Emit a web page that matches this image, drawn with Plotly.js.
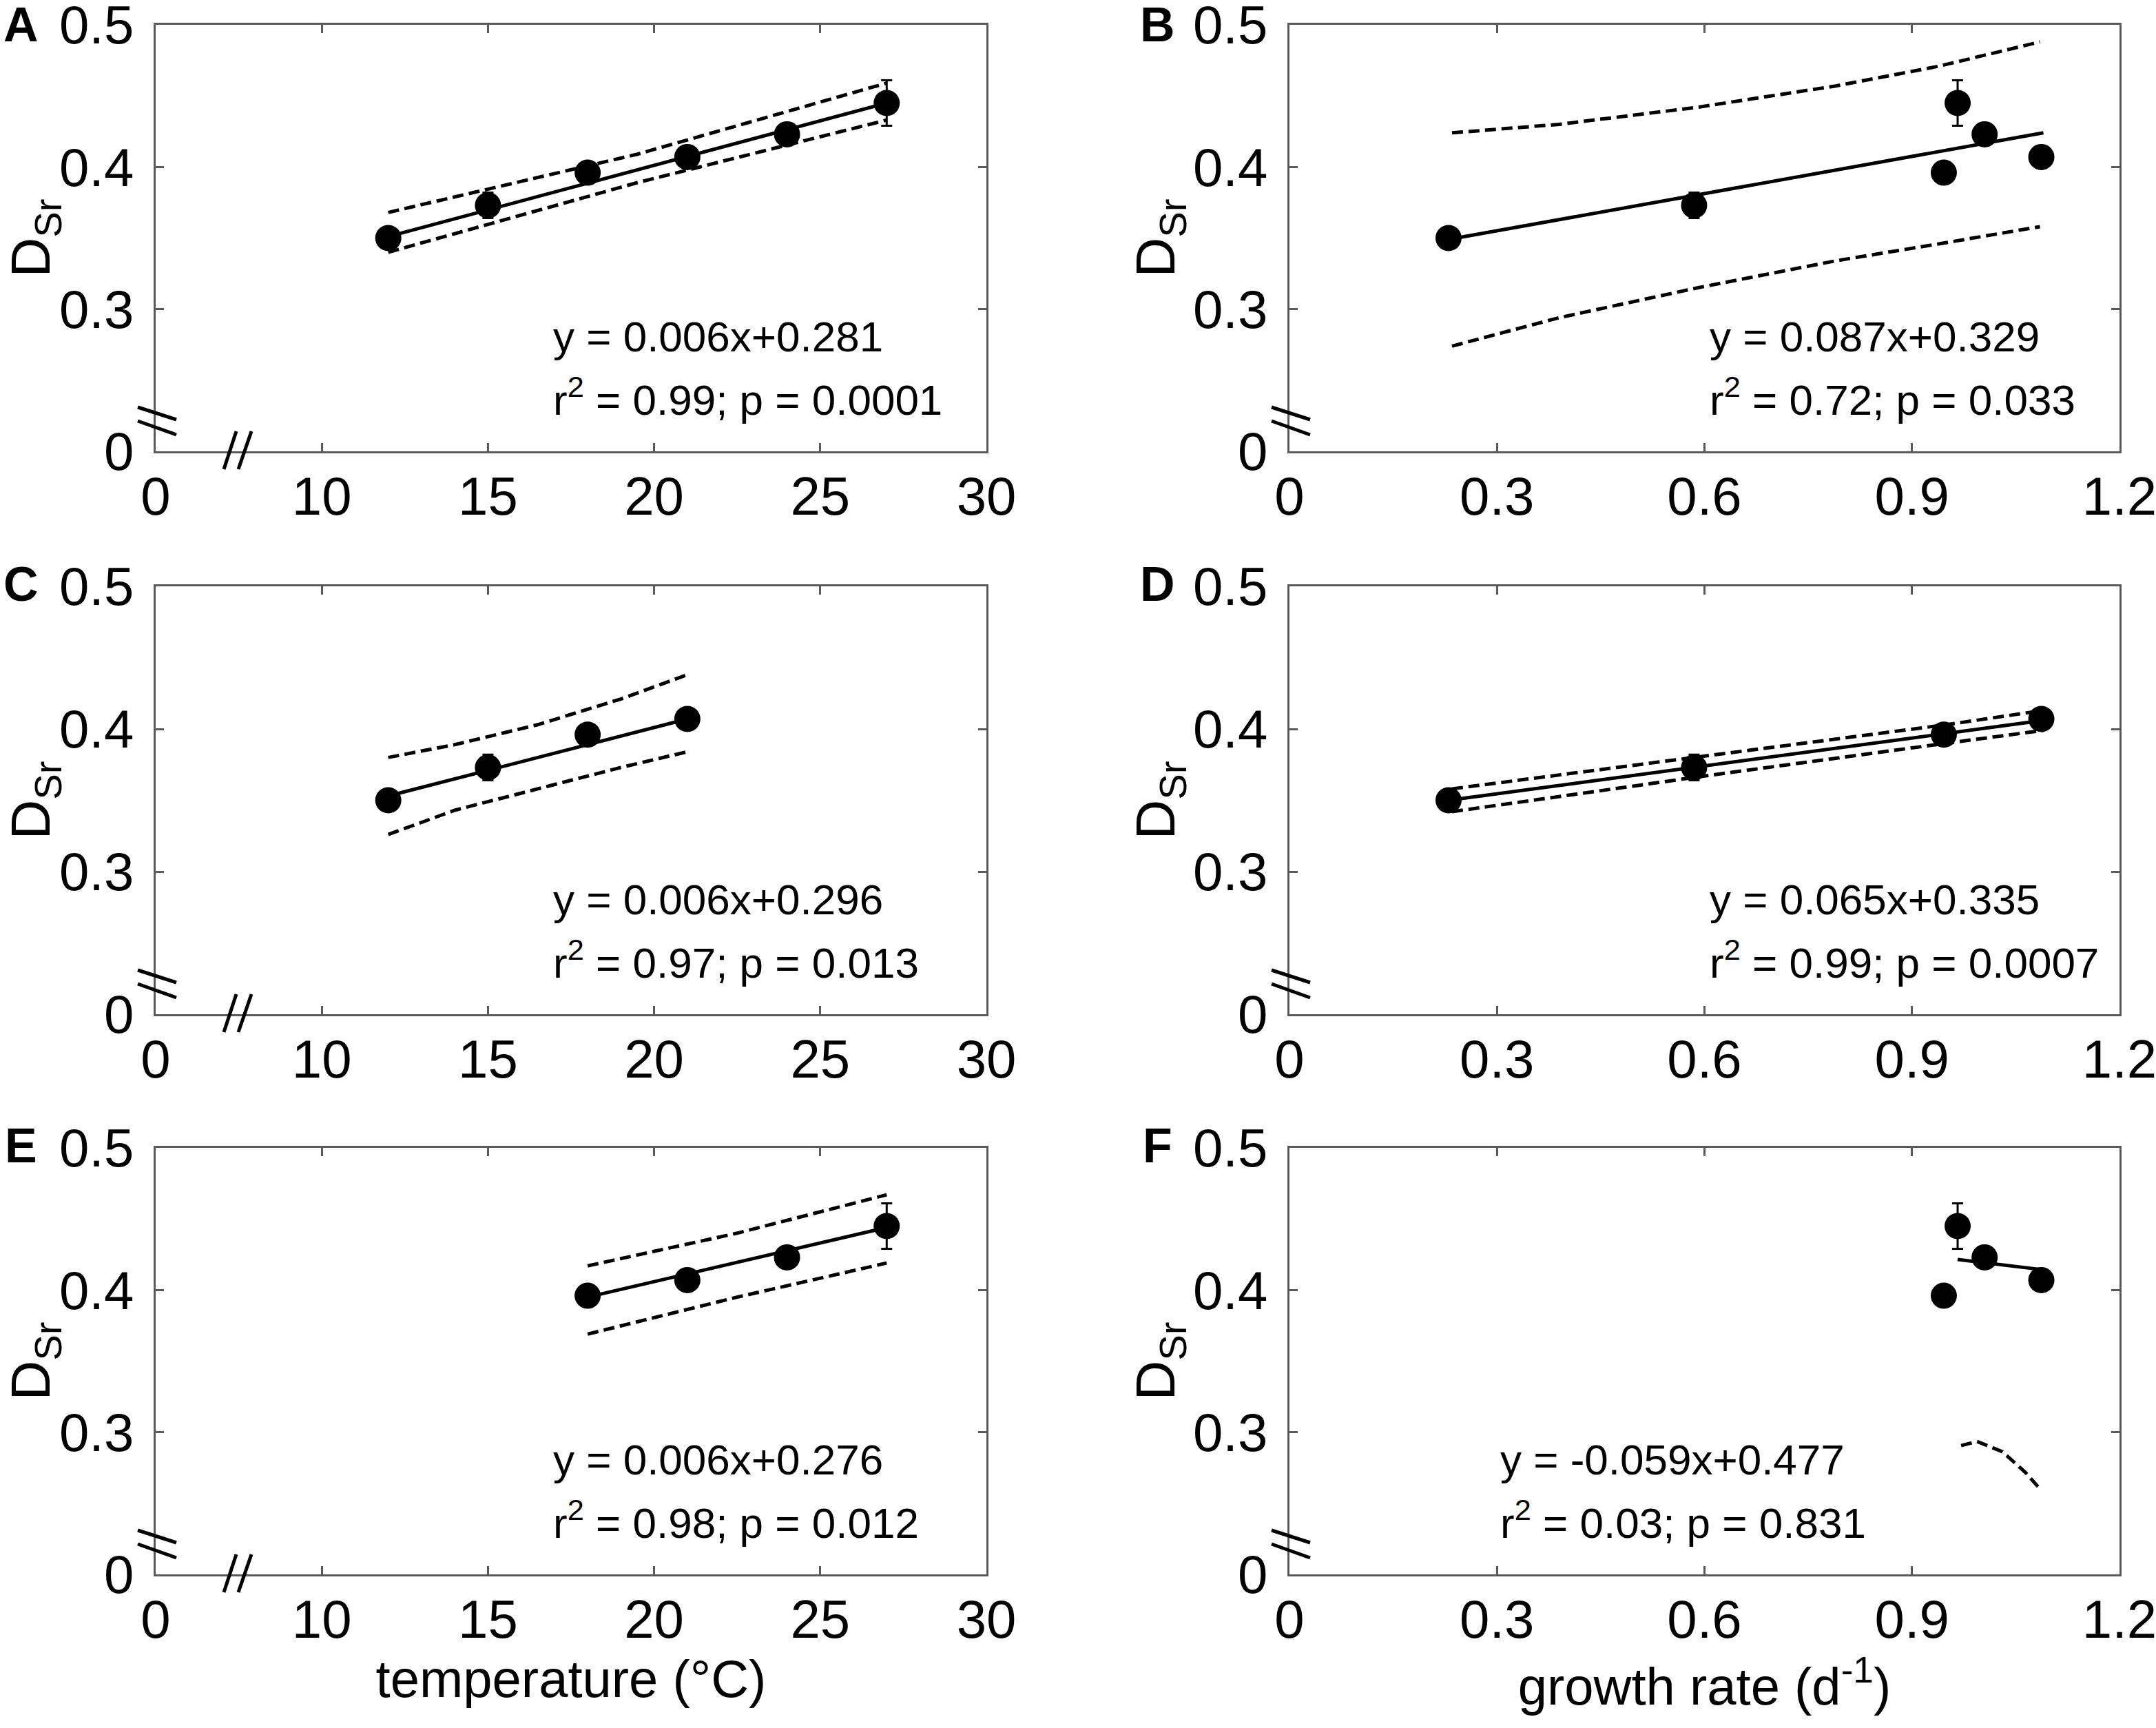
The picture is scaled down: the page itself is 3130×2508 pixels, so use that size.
<!DOCTYPE html>
<html>
<head>
<meta charset="utf-8">
<script src="https://cdn.plot.ly/plotly-3.0.1.min.js"></script>
<style>
  html, body { margin: 0; padding: 0; background: #fff; }
  #chart { width: 3130px; height: 2508px; }
</style>
</head>
<body>
<div id="chart"></div>
<script>
// measured values, shared by all panels
const temperature = [12, 15, 18, 21, 24, 27];
const growthRate = [0.23, 0.585, 0.946, 1.087, 1.005, 0.966];
const dSr = [0.350, 0.373, 0.396, 0.407, 0.423, 0.445];
const dSrErr = [0.004, 0.009, 0.004, 0.004, 0.004, 0.016];

// which points each panel uses
const pointsA = [0, 1, 2, 3, 4, 5];
const pointsC = [0, 1, 2, 3];
const pointsE = [2, 3, 4, 5];

// regression lines
const fitAx = [12, 27], fitAy = [0.351, 0.445];
const fitBx = [0.23, 1.09], fitBy = [0.349, 0.424];
const fitCx = [12, 21], fitCy = [0.353, 0.407];
const fitDx = [0.23, 1.09], fitDy = [0.350, 0.406];
const fitEx = [18, 27], fitEy = [0.395, 0.444];
const fitFx = [0.966, 1.087], fitFy = [0.4215, 0.4144];

// 95% confidence bands (dashed)
const bandAx = [12, 19.5, 27];
const bandAup = [0.368, 0.409, 0.459];
const bandAlo = [0.340, 0.389, 0.433];
const bandBx = [0.235, 0.39, 0.59, 0.79, 0.94, 1.085];
const bandBup = [0.424, 0.430, 0.442, 0.457, 0.471, 0.488];
const bandBlo = [0.274, 0.294, 0.315, 0.334, 0.346, 0.358];
const bandCx = [12, 14, 16.5, 19, 21];
const bandCup = [0.380, 0.389, 0.403, 0.421, 0.438];
const bandClo = [0.326, 0.343, 0.358, 0.373, 0.384];
const bandDx = [0.235, 0.6, 0.95, 1.09];
const bandDup = [0.358, 0.381, 0.403, 0.413];
const bandDlo = [0.342, 0.367, 0.390, 0.399];
const bandEx = [18, 22.5, 27];
const bandEup = [0.417, 0.440, 0.467];
const bandElo = [0.369, 0.395, 0.419];
const bandFx = [0.971, 0.994, 1.031, 1.064, 1.087];
const bandFlo = [0.2906, 0.2935, 0.2862, 0.2717, 0.2591];

// axis ticks (broken axes: lowest tick is labelled 0)
const tempTicks = [5, 10, 15, 20, 25, 30];
const tempLabels = ['0', '10', '15', '20', '25', '30'];
const rateTicks = [0, 0.3, 0.6, 0.9, 1.2];
const rateLabels = ['0', '0.3', '0.6', '0.9', '1.2'];
const dTicks = [0.2, 0.3, 0.4, 0.5];
const dLabels = ['0', '0.3', '0.4', '0.5'];

const equations = [
    ['y = 0.006x+0.281', 'r<sup>2</sup> = 0.99; p = 0.0001'],
    ['y = 0.087x+0.329', 'r<sup>2</sup> = 0.72; p = 0.033'],
    ['y = 0.006x+0.296', 'r<sup>2</sup> = 0.97; p = 0.013'],
    ['y = 0.065x+0.335', 'r<sup>2</sup> = 0.99; p = 0.0007'],
    ['y = 0.006x+0.276', 'r<sup>2</sup> = 0.98; p = 0.012'],
    ['y = -0.059x+0.477', 'r<sup>2</sup> = 0.03; p = 0.831']
];
const panelLetters = ['A', 'B', 'C', 'D', 'E', 'F'];

document.addEventListener("DOMContentLoaded", function () {
    drawFigure();
});

function pick(arr, idx) {
    return idx.map(i => arr[i]);
}

function drawFigure() {
    const W = 3130, H = 2508;
    const FONT = 'Liberation Sans, Arial, sans-serif';
    const colL = [226, 1872], colR = [1432, 3077];
    const rowT = [36, 851, 1666], rowB = [655, 1472, 2285];

    const traces = [];
    const layout = {
        width: W, height: H,
        margin: { l: 0, r: 0, t: 0, b: 0 },
        paper_bgcolor: '#ffffff', plot_bgcolor: '#ffffff',
        showlegend: false,
        font: { family: FONT, color: '#000', size: 78 },
        annotations: [],
        shapes: []
    };

    // per panel: x data, y data, fits, bands
    const panels = [
        { x: pick(temperature, pointsA), y: pick(dSr, pointsA), e: pick(dSrErr, pointsA),
          fx: fitAx, fy: fitAy, bx: bandAx, bu: bandAup, bl: bandAlo, temp: true, eqx: 575 },
        { x: pick(growthRate, pointsA), y: pick(dSr, pointsA), e: pick(dSrErr, pointsA),
          fx: fitBx, fy: fitBy, bx: bandBx, bu: bandBup, bl: bandBlo, temp: false, eqx: 608 },
        { x: pick(temperature, pointsC), y: pick(dSr, pointsC), e: pick(dSrErr, pointsC),
          fx: fitCx, fy: fitCy, bx: bandCx, bu: bandCup, bl: bandClo, temp: true, eqx: 575 },
        { x: pick(growthRate, pointsC), y: pick(dSr, pointsC), e: pick(dSrErr, pointsC),
          fx: fitDx, fy: fitDy, bx: bandDx, bu: bandDup, bl: bandDlo, temp: false, eqx: 608 },
        { x: pick(temperature, pointsE), y: pick(dSr, pointsE), e: pick(dSrErr, pointsE),
          fx: fitEx, fy: fitEy, bx: bandEx, bu: bandEup, bl: bandElo, temp: true, eqx: 575 },
        { x: pick(growthRate, pointsE), y: pick(dSr, pointsE), e: pick(dSrErr, pointsE),
          fx: fitFx, fy: fitFy, bx: bandFx, bu: null, bl: bandFlo, temp: false, eqx: 304 }
    ];

    panels.forEach((p, i) => {
        const n = i === 0 ? '' : String(i + 1);
        const xa = 'x' + n, ya = 'y' + n;
        const col = i % 2, row = Math.floor(i / 2);
        const L = colL[col], R = colR[col], T = rowT[row], B = rowB[row];
        const pw = R - L, ph = B - T;

        const dash = { color: '#000', width: 5, dash: '16px,8px' };
        if (p.bu) {
            traces.push({ x: p.bx, y: p.bu, xaxis: xa, yaxis: ya, mode: 'lines', line: dash, hoverinfo: 'skip' });
        }
        traces.push({ x: p.bx, y: p.bl, xaxis: xa, yaxis: ya, mode: 'lines', line: dash, hoverinfo: 'skip' });
        traces.push({ x: p.fx, y: p.fy, xaxis: xa, yaxis: ya, mode: 'lines',
            line: { color: '#000', width: 5 }, hoverinfo: 'skip' });
        traces.push({
            x: p.x, y: p.y, xaxis: xa, yaxis: ya, mode: 'markers',
            marker: { color: '#000', size: 38 },
            error_y: { type: 'data', array: p.e, visible: true, color: '#000', thickness: 3, width: 8 }
        });

        const axisCommon = {
            showline: true, linecolor: '#5a5a5a', linewidth: 3, mirror: 'ticks',
            ticks: 'inside', ticklen: 12, tickwidth: 3, tickcolor: '#5a5a5a',
            showgrid: false, zeroline: false, fixedrange: true,
            tickfont: { family: FONT, size: 78, color: '#000' },
            ticklabeloverflow: 'allow',
            tickmode: 'array'
        };

        layout['xaxis' + n] = Object.assign({}, axisCommon, {
            domain: [L / W, R / W], anchor: ya,
            range: p.temp ? [5, 30] : [0, 1.2],
            tickvals: p.temp ? tempTicks : rateTicks,
            ticktext: p.temp ? tempLabels : rateLabels,
            ticklabelstandoff: -5
        });
        if (row === 2) {
            layout['xaxis' + n].title = {
                text: p.temp ? 'temperature (°C)' : 'growth rate (d<sup>-1</sup>)',
                font: { family: FONT, size: 76, color: '#000' },
                standoff: 17
            };
        }
        layout['yaxis' + n] = Object.assign({}, axisCommon, {
            domain: [1 - B / H, 1 - T / H], anchor: xa,
            range: [0.2, 0.5],
            tickvals: dTicks, ticktext: dLabels,
            ticklabelstandoff: 13,
            title: { text: 'D<sub>Sr</sub>', font: { family: FONT, size: 80, color: '#000' }, standoff: 0 }
        });

        // equation text
        const xr = xa + ' domain', yr = ya + ' domain';
        layout.annotations.push({
            xref: xr, yref: yr, x: p.eqx / pw, y: 130 / ph, xanchor: 'left', yanchor: 'bottom',
            text: equations[i][0], showarrow: false, font: { family: FONT, size: 62, color: '#000' }
        });
        layout.annotations.push({
            xref: xr, yref: yr, x: p.eqx / pw, y: 38 / ph, xanchor: 'left', yanchor: 'bottom',
            text: equations[i][1], showarrow: false, font: { family: FONT, size: 62, color: '#000' }
        });

        // panel letter
        layout.annotations.push({
            xref: 'paper', yref: 'paper',
            x: (col === 0 ? 30 : 1680) / W, y: 1 - Math.max(T - 3, 36) / H,
            xanchor: 'center', yanchor: 'middle',
            text: '<b>' + panelLetters[i] + '</b>', showarrow: false,
            font: { family: FONT, size: 70, color: '#000' }
        });

        // axis break marks, offsets in px from the lower-left corner
        const brk = [[-26, 64, 30, 46], [-26, 44, 30, 24]];
        if (p.temp) {
            brk.push([117, 29, 99, -26], [139, 29, 120, -26]);
        }
        brk.forEach(b => {
            layout.shapes.push({
                type: 'line', xref: xr, yref: yr,
                x0: b[0] / pw, y0: b[1] / ph, x1: b[2] / pw, y1: b[3] / ph,
                line: { color: '#000', width: 5 }
            });
        });
    });

    Plotly.newPlot('chart', traces, layout, { staticPlot: true, displayModeBar: false });
}
</script>
</body>
</html>
